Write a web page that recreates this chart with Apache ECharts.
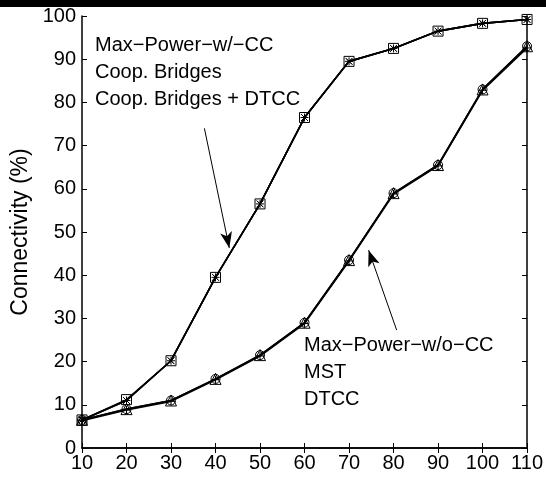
<!DOCTYPE html>
<html>
<head>
<meta charset="utf-8">
<script src="https://cdn.jsdelivr.net/npm/echarts@6/dist/echarts.min.js"></script>
<style>
  html, body { margin: 0; padding: 0; background: #fff; }
  #chart { width: 546px; height: 479px; }
</style>
</head>
<body>
<div id="chart"></div>
<script>
const nodes = [10, 20, 30, 40, 50, 60, 70, 80, 90, 100, 110];
// upper group: Max-Power-w/-CC, Coop. Bridges, Coop. Bridges + DTCC
const maxPowerCC = [6.5, 11.2, 20.2, 39.5, 56.5, 76.5, 89.5, 92.5, 96.5, 98.3, 99.2];
const coopBridges = [6.5, 11.0, 20.2, 39.5, 56.5, 76.5, 89.5, 92.5, 96.5, 98.3, 99.2];
const coopBridgesDTCC = [6.5, 11.0, 20.2, 39.5, 56.5, 76.5, 89.5, 92.5, 96.5, 98.3, 99.2];
// lower group: Max-Power-w/o-CC, MST, DTCC
const maxPowerNoCC = [6.5, 9.0, 11.0, 16.0, 21.5, 29.0, 43.5, 59.0, 65.5, 83.0, 93.0];
const mst = [6.5, 9.0, 11.0, 16.0, 21.5, 29.0, 43.5, 59.0, 65.5, 83.0, 93.0];
const dtcc = [6.3, 8.8, 10.8, 15.8, 21.3, 28.8, 43.3, 58.8, 65.3, 82.8, 92.6];
const yTicks = [0, 10, 20, 30, 40, 50, 60, 70, 80, 90, 100];

const font = "'Liberation Sans', Arial, sans-serif";
const crossPath = "path://M0,0L10,10M10,0L0,10";
const starPath = "path://M5,0L5,10M0,5L10,5M1.5,1.5L8.5,8.5M8.5,1.5L1.5,8.5";
const plusPath = "path://M5,0L5,10M0,5L10,5";

function mk(name, data, symbol, size) {
  return {
    name: name,
    type: "line",
    data: nodes.map((x, i) => [x, data[i]]),
    symbol: symbol,
    symbolSize: size,
    showAllSymbol: true,
    lineStyle: { color: "#000", width: 1.6 },
    itemStyle: { color: "rgba(0,0,0,0)", borderColor: "#000", borderWidth: 1 },
    z: 3,
  };
}

const series = [
  mk("Max−Power−w/−CC", maxPowerCC, "rect", 10),
  mk("Coop. Bridges", coopBridges, crossPath, 7),
  mk("Coop. Bridges + DTCC", coopBridgesDTCC, starPath, 8),
  mk("Max−Power−w/o−CC", maxPowerNoCC, "triangle", 11),
  mk("MST", mst, "circle", 9),
  mk("DTCC", dtcc, plusPath, 8),
];

// annotation arrows (data coordinates)
series.push({
  type: "line",
  data: [],
  markLine: {
    silent: true,
    symbol: ["none", "arrow"],
    symbolSize: [9, 16],
    label: { show: false },
    lineStyle: { color: "#000", width: 1, type: "solid" },
    data: [
      [{ coord: [37.5, 74] }, { coord: [43.1, 46.3] }],
      [{ coord: [80.7, 27.3] }, { coord: [74.4, 45.8] }],
    ],
  },
});

const axisBase = {
  type: "value",
  min: 10,
  max: 110,
  interval: 10,
  axisLine: { show: true, lineStyle: { color: "#000", width: 1.5 } },
  axisTick: { show: true, inside: true, length: 5, lineStyle: { color: "#000" } },
  splitLine: { show: false },
};

const chart = echarts.init(document.getElementById("chart"));
chart.setOption({
  backgroundColor: "#fff",
  animation: false,
  grid: { left: 82, right: 17, top: 16, bottom: 31 },
  xAxis: [
    Object.assign({}, axisBase, {
      position: "bottom",
      axisLabel: { color: "#000", fontSize: 20, fontFamily: font, margin: 5 },
    }),
    Object.assign({}, axisBase, { position: "top", axisLabel: { show: false } }),
  ],
  yAxis: [
    Object.assign({}, axisBase, {
      min: yTicks[0],
      max: yTicks[yTicks.length - 1],
      position: "left",
      name: "Connectivity (%)",
      nameLocation: "middle",
      nameGap: 42,
      nameTextStyle: { color: "#000", fontSize: 23, fontFamily: font },
      axisLabel: { color: "#000", fontSize: 20, fontFamily: font, margin: 6 },
    }),
    Object.assign({}, axisBase, {
      min: yTicks[0],
      max: yTicks[yTicks.length - 1],
      position: "right",
      axisLabel: { show: false },
    }),
  ],
  graphic: [
    { type: "rect", left: 0, top: 0, shape: { width: 546, height: 7 }, style: { fill: "#000" } },
    {
      type: "text", left: 95, top: 32,
      style: { text: "Max−Power−w/−CC\nCoop. Bridges\nCoop. Bridges + DTCC", font: "20px " + font, fill: "#000", lineHeight: 27 },
    },
    {
      type: "text", left: 304, top: 332,
      style: { text: "Max−Power−w/o−CC\nMST\nDTCC", font: "20px " + font, fill: "#000", lineHeight: 27 },
    },
  ],
  series: series,
});
</script>
</body>
</html>
